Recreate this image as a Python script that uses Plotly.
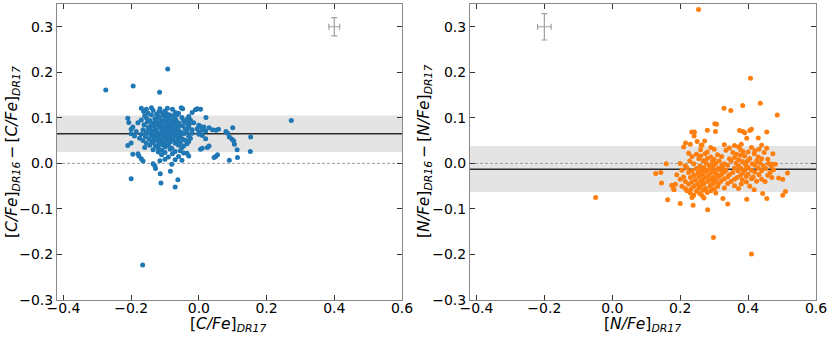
import plotly.graph_objects as go
from plotly.subplots import make_subplots

# ---------------- data ----------------
# Left panel: [C/Fe]_DR17 vs [C/Fe]_DR16 - [C/Fe]_DR17  (x, dy) pairs
c_pairs = [
    (-0.275, 0.161), (-0.194, 0.170), (-0.092, 0.207), (-0.116, 0.156), (0.273, 0.094),
    (-0.166, -0.223), (0.153, 0.058), (0.100, 0.078), (0.098, 0.053), (0.021, 0.101),
    (-0.170, 0.121), (-0.155, 0.119), (-0.140, 0.122), (-0.115, 0.120), (-0.093, 0.121),
    (-0.078, 0.119), (-0.052, 0.122), (-0.048, 0.120),
    (-0.163, 0.114), (-0.135, 0.116), (-0.118, 0.113), (-0.100, 0.115), (-0.070, 0.112),
    (-0.010, 0.118), (-0.005, 0.120), (0.005, 0.119),
    (-0.150, 0.110), (-0.125, 0.108), (-0.108, 0.111), (-0.095, 0.109), (-0.085, 0.106),
    (-0.060, 0.110), (-0.020, 0.112),
    (-0.160, 0.104), (-0.140, 0.106), (-0.120, 0.103), (-0.105, 0.105), (-0.090, 0.102),
    (-0.075, 0.104), (-0.065, 0.106), (-0.030, 0.103),
    (-0.210, 0.099), (-0.155, 0.100), (-0.130, 0.098), (-0.117, 0.101), (-0.100, 0.099),
    (-0.088, 0.100), (-0.072, 0.098), (-0.050, 0.101), (-0.035, 0.097),
    (-0.170, 0.095), (-0.145, 0.094), (-0.128, 0.096), (-0.110, 0.093), (-0.098, 0.095),
    (-0.083, 0.094), (-0.068, 0.096), (-0.045, 0.093), (-0.025, 0.095),
    (-0.207, 0.090), (-0.180, 0.089), (-0.152, 0.091), (-0.135, 0.088), (-0.120, 0.090),
    (-0.103, 0.091), (-0.090, 0.088), (-0.078, 0.090), (-0.060, 0.089), (-0.040, 0.091),
    (-0.028, 0.087), (-0.015, 0.089),
    (-0.162, 0.085), (-0.140, 0.084), (-0.125, 0.086), (-0.112, 0.083), (-0.097, 0.085),
    (-0.085, 0.084), (-0.070, 0.086), (-0.055, 0.083), (-0.033, 0.085), (0.000, 0.084),
    (-0.195, 0.080), (-0.150, 0.079), (-0.132, 0.081), (-0.118, 0.080), (-0.105, 0.078),
    (-0.092, 0.081), (-0.080, 0.079), (-0.065, 0.080), (-0.048, 0.082), (-0.030, 0.079),
    (0.005, 0.081), (0.015, 0.080), (0.030, 0.078),
    (-0.200, 0.075), (-0.165, 0.074), (-0.145, 0.076), (-0.127, 0.073), (-0.110, 0.075),
    (-0.100, 0.077), (-0.088, 0.074), (-0.075, 0.076), (-0.060, 0.073), (-0.040, 0.075),
    (-0.020, 0.074), (-0.005, 0.076), (0.010, 0.073), (0.040, 0.074), (0.050, 0.073),
    (0.058, 0.075),
    (-0.185, 0.070), (-0.155, 0.069), (-0.138, 0.071), (-0.122, 0.068), (-0.108, 0.070),
    (-0.095, 0.072), (-0.082, 0.069), (-0.068, 0.071), (-0.052, 0.068), (-0.035, 0.070),
    (0.000, 0.069), (0.020, 0.071), (0.080, 0.070),
    (-0.200, 0.065), (-0.170, 0.064), (-0.150, 0.066), (-0.130, 0.063), (-0.115, 0.065),
    (-0.100, 0.067), (-0.090, 0.064), (-0.076, 0.066), (-0.060, 0.063), (-0.045, 0.065),
    (-0.020, 0.066), (0.000, 0.064), (0.085, 0.066),
    (-0.190, 0.060), (-0.158, 0.059), (-0.140, 0.061), (-0.125, 0.058), (-0.112, 0.060),
    (-0.098, 0.062), (-0.085, 0.059), (-0.070, 0.061), (-0.055, 0.058), (-0.030, 0.060),
    (0.010, 0.061), (0.090, 0.058),
    (-0.175, 0.055), (-0.148, 0.054), (-0.133, 0.056), (-0.118, 0.053), (-0.103, 0.055),
    (-0.090, 0.057), (-0.077, 0.054), (-0.062, 0.056), (-0.048, 0.053), (-0.025, 0.055),
    (0.020, 0.054),
    (-0.165, 0.050), (-0.140, 0.049), (-0.125, 0.051), (-0.110, 0.048), (-0.093, 0.050),
    (-0.080, 0.052), (-0.065, 0.049), (-0.040, 0.051), (-0.030, 0.048), (0.103, 0.049),
    (-0.200, 0.045), (-0.155, 0.044), (-0.135, 0.046), (-0.118, 0.043), (-0.100, 0.045),
    (-0.085, 0.047), (-0.070, 0.044), (-0.055, 0.046), (-0.035, 0.043), (0.105, 0.042),
    (-0.210, 0.039), (-0.145, 0.040), (-0.128, 0.038), (-0.108, 0.041), (-0.090, 0.039),
    (-0.060, 0.040), (-0.045, 0.038), (0.030, 0.038),
    (-0.160, 0.035), (-0.120, 0.034), (-0.100, 0.036), (-0.080, 0.033), (-0.050, 0.035),
    (0.010, 0.033), (0.025, 0.035),
    (-0.135, 0.030), (-0.110, 0.029), (-0.085, 0.031), (-0.055, 0.028), (0.005, 0.031),
    (0.113, 0.030),
    (-0.120, 0.025), (-0.100, 0.024), (-0.070, 0.026), (-0.045, 0.023), (0.152, 0.026),
    (-0.195, 0.020), (-0.180, 0.021), (-0.110, 0.019), (-0.078, 0.021), (-0.035, 0.022),
    (0.055, 0.019),
    (-0.177, 0.016), (-0.090, 0.014), (-0.060, 0.015), (-0.030, 0.016), (0.045, 0.013),
    (0.050, 0.015),
    (-0.170, 0.010), (-0.100, 0.009), (-0.070, 0.008), (0.114, 0.013),
    (-0.165, 0.005), (-0.115, 0.006), (-0.050, 0.007), (0.090, 0.007),
    (-0.135, -0.001), (-0.080, -0.002), (-0.130, -0.006), (-0.128, -0.011),
    (-0.084, -0.017), (-0.114, -0.023), (-0.200, -0.034), (-0.062, -0.036),
    (-0.112, -0.043), (-0.070, -0.052),
]

# Right panel: [N/Fe]_DR17 vs [N/Fe]_DR16 - [N/Fe]_DR17  (x, dy) pairs
n_pairs = [
    (0.254, 0.338), (0.407, 0.187), (0.436, 0.132), (0.329, 0.121), (0.349, 0.116),
    (0.384, 0.127), (0.486, 0.106), (-0.049, -0.075), (0.298, -0.163), (0.410, -0.199),
    (0.281, -0.102), (0.238, -0.092), (0.200, -0.088), (0.163, -0.080), (0.340, -0.089),
    (0.326, -0.077), (0.396, -0.079), (0.455, -0.077), (0.443, -0.066), (0.418, -0.058),
    (0.502, -0.070), (0.510, -0.062), (0.516, -0.021), (0.502, -0.035), (0.490, -0.032),
    (0.473, 0.021), (0.480, -0.002), (0.455, 0.069), (0.430, 0.056), (0.410, 0.075),
    (0.405, 0.072), (0.390, 0.067), (0.385, 0.070), (0.375, 0.072), (0.396, 0.055),
    (0.302, 0.087), (0.307, 0.086), (0.304, 0.070), (0.280, 0.073), (0.234, 0.069),
    (0.242, 0.069), (0.241, 0.060), (0.264, 0.040), (0.250, 0.048), (0.272, 0.049),
    (0.216, 0.045), (0.230, 0.042), (0.210, 0.036), (0.225, 0.022), (0.159, -0.001),
    (0.128, -0.022), (0.143, -0.020), (0.145, -0.043), (0.175, -0.048), (0.180, -0.055),
    (0.182, -0.058), (0.186, -0.046),
    (0.262, 0.040), (0.330, 0.041), (0.360, 0.039), (0.440, 0.040), (0.380, 0.042),
    (0.290, 0.035), (0.345, 0.034), (0.372, 0.036), (0.410, 0.035), (0.455, 0.033),
    (0.260, 0.030), (0.300, 0.031), (0.335, 0.029), (0.378, 0.030), (0.420, 0.028),
    (0.432, 0.031),
    (0.280, 0.025), (0.355, 0.024), (0.385, 0.026), (0.400, 0.025), (0.447, 0.024),
    (0.248, 0.020), (0.273, 0.021), (0.310, 0.019), (0.366, 0.020), (0.378, 0.018),
    (0.418, 0.021),
    (0.235, 0.015), (0.260, 0.016), (0.290, 0.014), (0.322, 0.015), (0.360, 0.013),
    (0.390, 0.016), (0.430, 0.014),
    (0.255, 0.010), (0.280, 0.011), (0.300, 0.009), (0.345, 0.010), (0.372, 0.008),
    (0.405, 0.011), (0.440, 0.010), (0.458, 0.009),
    (0.228, 0.005), (0.268, 0.006), (0.295, 0.004), (0.315, 0.005), (0.350, 0.006),
    (0.383, 0.004), (0.398, 0.005), (0.425, 0.006),
    (0.200, 0.000), (0.240, -0.001), (0.276, 0.001), (0.305, 0.000), (0.330, -0.001),
    (0.365, 0.001), (0.390, 0.000), (0.412, -0.001), (0.435, 0.001), (0.460, 0.000),
    (0.470, -0.002),
    (0.215, -0.005), (0.258, -0.006), (0.285, -0.004), (0.298, -0.005), (0.322, -0.006),
    (0.340, -0.004), (0.372, -0.005), (0.395, -0.006), (0.420, -0.004), (0.445, -0.005),
    (0.468, -0.006),
    (0.220, -0.010), (0.248, -0.011), (0.270, -0.009), (0.290, -0.010), (0.312, -0.011),
    (0.325, -0.009), (0.360, -0.010), (0.380, -0.011), (0.400, -0.009), (0.430, -0.010),
    (0.452, -0.011),
    (0.205, -0.015), (0.235, -0.016), (0.260, -0.014), (0.280, -0.015), (0.300, -0.016),
    (0.318, -0.014), (0.335, -0.015), (0.370, -0.016), (0.392, -0.014), (0.410, -0.015),
    (0.440, -0.016), (0.475, -0.014),
    (0.225, -0.020), (0.252, -0.021), (0.272, -0.019), (0.293, -0.020), (0.305, -0.021),
    (0.330, -0.019), (0.355, -0.020), (0.385, -0.021), (0.420, -0.019), (0.465, -0.020),
    (0.190, -0.025), (0.240, -0.026), (0.265, -0.024), (0.285, -0.025), (0.310, -0.026),
    (0.322, -0.024), (0.345, -0.025), (0.378, -0.026), (0.400, -0.024), (0.432, -0.025),
    (0.458, -0.026),
    (0.210, -0.030), (0.230, -0.031), (0.255, -0.029), (0.277, -0.030), (0.298, -0.031),
    (0.315, -0.029), (0.340, -0.030), (0.368, -0.031), (0.395, -0.029), (0.415, -0.030),
    (0.470, -0.031),
    (0.200, -0.035), (0.245, -0.036), (0.268, -0.034), (0.290, -0.035), (0.305, -0.036),
    (0.330, -0.034), (0.360, -0.035), (0.383, -0.036), (0.410, -0.034), (0.440, -0.035),
    (0.215, -0.040), (0.235, -0.041), (0.260, -0.039), (0.282, -0.040), (0.300, -0.041),
    (0.320, -0.039), (0.350, -0.040), (0.395, -0.041), (0.425, -0.039), (0.450, -0.040),
    (0.225, -0.045), (0.250, -0.046), (0.270, -0.044), (0.295, -0.045), (0.312, -0.046),
    (0.340, -0.044), (0.380, -0.045),
    (0.205, -0.050), (0.240, -0.051), (0.262, -0.049), (0.288, -0.050), (0.310, -0.051),
    (0.360, -0.049), (0.405, -0.050),
    (0.215, -0.055), (0.232, -0.056), (0.255, -0.054), (0.275, -0.055), (0.300, -0.056),
    (0.330, -0.054), (0.372, -0.055),
    (0.220, -0.060), (0.248, -0.061), (0.268, -0.059), (0.290, -0.060),
    (0.230, -0.065), (0.258, -0.066), (0.280, -0.064), (0.305, -0.065),
    (0.240, -0.070), (0.265, -0.071),
    (0.235, -0.075), (0.270, -0.076),
]

c_x = [p[0] for p in c_pairs]
c_dy = [p[1] for p in c_pairs]
n_x = [p[0] for p in n_pairs]
n_dy = [p[1] for p in n_pairs]

# mean offset and scatter (band) per panel
c_mean, c_lo, c_hi = 0.065, 0.025, 0.105
n_mean, n_lo, n_hi = -0.013, -0.063, 0.038

# typical error bars
c_err_pos = (0.4, 0.3)
c_err = (0.016, 0.020)
n_err_pos = (-0.2, 0.3)
n_err = (0.020, 0.029)

x_ticks = [-0.4, -0.2, 0.0, 0.2, 0.4, 0.6]
y_ticks = [-0.3, -0.2, -0.1, 0.0, 0.1, 0.2, 0.3]

# ---------------- figure ----------------
W, H = 830, 337
ml, mr, mt, mb = 57, 14, 4, 37
pw = W - ml - mr
ph = H - mt - mb

fig = make_subplots(rows=1, cols=2)

fig.add_trace(go.Scatter(x=c_x, y=c_dy, mode="markers",
                         marker=dict(color="#1f77b4", size=5, line=dict(width=0)),
                         showlegend=False), row=1, col=1)
fig.add_trace(go.Scatter(x=n_x, y=n_dy, mode="markers",
                         marker=dict(color="#ff7f0e", size=5, line=dict(width=0)),
                         showlegend=False), row=1, col=2)

for (pos, err, r, c) in [(c_err_pos, c_err, 1, 1), (n_err_pos, n_err, 1, 2)]:
    fig.add_trace(go.Scatter(x=[pos[0]], y=[pos[1]], mode="markers",
                             marker=dict(size=1, color="rgba(0,0,0,0)"),
                             error_x=dict(type="constant", value=err[0], color="#a0a0a0",
                                          thickness=1.2, width=3),
                             error_y=dict(type="constant", value=err[1], color="#a0a0a0",
                                          thickness=1.2, width=3),
                             showlegend=False), row=r, col=c)

for (xa, ya, mean, lo, hi) in [("x", "y", c_mean, c_lo, c_hi), ("x2", "y2", n_mean, n_lo, n_hi)]:
    fig.add_shape(type="rect", xref=f"{xa} domain", yref=ya, x0=0, x1=1, y0=lo, y1=hi,
                  fillcolor="#e4e4e4", line=dict(width=0), layer="below")
    fig.add_shape(type="line", xref=f"{xa} domain", yref=ya, x0=0, x1=1, y0=0, y1=0,
                  line=dict(color="#9a9a9a", width=1, dash="3px,2px"), layer="below")
    fig.add_shape(type="line", xref=f"{xa} domain", yref=ya, x0=0, x1=1, y0=mean, y1=mean,
                  line=dict(color="#2b2b2b", width=1.6), layer="below")

axis_common = dict(showgrid=False, zeroline=False, ticks="inside", ticklen=5, tickwidth=1,
                   tickcolor="#333333", showline=True, linecolor="#888888", linewidth=1,
                   mirror="allticks", tickfont=dict(size=14, color="black"))

fig.update_xaxes(range=[-0.419, 0.6], tickvals=x_ticks, tickformat=".1f",
                 ticklabelstandoff=-5, **axis_common)
fig.update_yaxes(range=[-0.3, 0.35], tickvals=y_ticks, tickformat=".1f", **axis_common)

fig.update_layout(
    width=W, height=H,
    margin=dict(l=ml, r=mr, t=mt, b=mb),
    plot_bgcolor="white", paper_bgcolor="white",
    font=dict(family="DejaVu Sans", color="black"),
    xaxis=dict(domain=[0, (402 - ml) / pw]),
    xaxis2=dict(domain=[(470 - ml) / pw, 1]),
)

title_font = dict(size=15.5, color="black", family="DejaVu Sans")
y_xt = -(325 - (H - mb)) / ph
fig.add_annotation(text="[<i>C/Fe</i>]<sub><i>DR17</i></sub>", xref="paper", yref="paper",
                   x=(228 - ml) / pw, y=y_xt, showarrow=False,
                   font=title_font, xanchor="center", yanchor="middle")
fig.add_annotation(text="[<i>N/Fe</i>]<sub><i>DR17</i></sub>", xref="paper", yref="paper",
                   x=(642 - ml) / pw, y=y_xt, showarrow=False,
                   font=title_font, xanchor="center", yanchor="middle")
fig.add_annotation(text="[<i>C/Fe</i>]<sub><i>DR16</i></sub>\u2009−\u2009[<i>C/Fe</i>]<sub><i>DR17</i></sub>",
                   xref="paper", yref="paper", x=(13 - ml) / pw, y=0.5, textangle=-90,
                   showarrow=False, font=title_font, xanchor="center", yanchor="middle")
fig.add_annotation(text="[<i>N/Fe</i>]<sub><i>DR16</i></sub>\u2009−\u2009[<i>N/Fe</i>]<sub><i>DR17</i></sub>",
                   xref="paper", yref="paper", x=(425 - ml) / pw, y=0.5, textangle=-90,
                   showarrow=False, font=title_font, xanchor="center", yanchor="middle")

fig.write_html("out.html", config={"displayModeBar": False},
               post_script="document.body.style.margin='0';document.body.style.overflow='hidden';")
